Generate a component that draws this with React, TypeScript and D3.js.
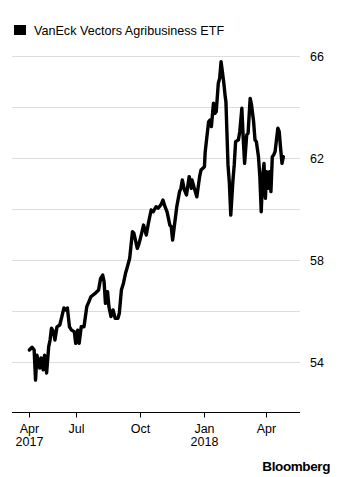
import React from "react";
import * as d3 from "d3";

const seriesName = "VanEck Vectors Agribusiness ETF";

const dates = [
  "2017-04-24","2017-04-28","2017-05-01","2017-05-03","2017-05-05","2017-05-09","2017-05-11","2017-05-14","2017-05-16","2017-05-19",
  "2017-05-22","2017-05-24","2017-05-26","2017-05-29","2017-05-31","2017-06-03","2017-06-07","2017-06-10","2017-06-13","2017-06-16",
  "2017-06-18","2017-06-21","2017-06-24","2017-06-28","2017-06-30","2017-07-03","2017-07-05","2017-07-08","2017-07-12","2017-07-16",
  "2017-07-19","2017-07-22","2017-07-28","2017-08-02","2017-08-05","2017-08-08","2017-08-10","2017-08-12","2017-08-15","2017-08-17",
  "2017-08-20","2017-08-23","2017-08-26","2017-08-30","2017-09-01","2017-09-04","2017-09-07","2017-09-10","2017-09-12","2017-09-16",
  "2017-09-20","2017-09-22","2017-09-27","2017-09-29","2017-10-02","2017-10-06","2017-10-10","2017-10-13","2017-10-17","2017-10-20",
  "2017-10-24","2017-10-27","2017-10-31","2017-11-03","2017-11-06","2017-11-09","2017-11-13","2017-11-15","2017-11-17","2017-11-20",
  "2017-11-23","2017-11-27","2017-11-29","2017-12-01","2017-12-04","2017-12-07","2017-12-11","2017-12-14","2017-12-15","2017-12-19",
  "2017-12-22","2017-12-26","2017-12-28","2018-01-02","2018-01-03","2018-01-05","2018-01-08","2018-01-10","2018-01-12","2018-01-15",
  "2018-01-17","2018-01-19","2018-01-22","2018-01-24","2018-01-26","2018-01-30","2018-02-01","2018-02-02","2018-02-05","2018-02-07",
  "2018-02-09","2018-02-12","2018-02-14","2018-02-16","2018-02-20","2018-02-22","2018-02-25","2018-02-27","2018-03-01","2018-03-04",
  "2018-03-06","2018-03-09","2018-03-11","2018-03-14","2018-03-16","2018-03-18","2018-03-21","2018-03-23","2018-03-25","2018-03-27",
  "2018-03-29","2018-03-31","2018-04-02","2018-04-04","2018-04-06","2018-04-08","2018-04-10","2018-04-12","2018-04-14","2018-04-16",
  "2018-04-18","2018-04-20","2018-04-22","2018-04-24","2018-04-26"
];

const prices = [
  54.47,54.58,54.47,53.29,54.27,53.76,54.16,53.69,54.27,53.57,
  54.6,54.86,55.33,55.19,54.86,55.38,55.45,55.78,56.12,56.04,
  56.12,55.38,55.25,55.19,54.73,55.25,54.73,55.38,55.38,56.17,
  56.36,56.56,56.69,56.82,57.28,57.41,57.15,56.3,56.76,56.17,
  55.78,56.04,55.71,55.71,55.91,56.82,57.09,57.48,57.67,58.07,
  59.11,59.05,58.46,58.59,58.91,59.37,58.98,59.44,59.96,59.89,
  60.09,60.03,60.16,60.35,60.09,59.89,59.37,59.31,58.78,59.44,
  60.09,60.68,60.81,61.14,60.75,60.55,61.27,60.81,61.14,60.75,
  60.48,61.27,61.53,61.66,62.22,62.71,63.42,63.49,63.23,64.15,
  63.75,63.82,64.93,65.13,65.78,64.93,64.4,64.21,61.73,61.01,
  59.76,61.07,61.73,62.64,62.71,63.03,63.95,62.77,61.79,62.9,
  62.97,64.34,64.08,63.42,62.71,62.64,62.05,61.27,59.89,61.27,
  61.79,60.42,61.46,60.81,61.46,60.68,62.05,62.12,62.25,62.71,
  63.17,63.03,62.38,61.79,62.05
];

const xTickDates = ["2017-04-24", "2017-07-01", "2017-10-01", "2018-01-01", "2018-04-01"];
const xTickLabels = [["Apr", "2017"], ["Jul"], ["Oct"], ["Jan", "2018"], ["Apr"]];
const gridValues = [54, 56, 58, 60, 62, 64, 66];
const yLabelValues = [54, 58, 62, 66];

const parse = d3.timeParse("%Y-%m-%d");

export default function App() {
  const W = 340, H = 477;
  const x = d3.scaleTime()
    .domain([parse("2017-03-30") as Date, parse("2018-05-20") as Date])
    .range([12, 300]);
  const y = d3.scaleLinear().domain([52, 66]).range([413, 56]);

  const data = dates.map((d, i) => ({ date: parse(d) as Date, value: prices[i] }));
  const line = d3.line<{ date: Date; value: number }>()
    .x((d) => x(d.date))
    .y((d) => y(d.value));

  const axisY = Math.round(y(52)) - 0.5;
  const font = "'Liberation Sans', Arial, Helvetica, sans-serif";

  return (
    <svg width={W} height={H} style={{ position: "absolute", left: 0, top: 0, background: "#fff" }} fontFamily={font}>
      <rect x={14} y={25} width={12} height={10} fill="#000" />
      <text x={34} y={34.5} fontSize={12.6} fill="#000">{seriesName}</text>

      {gridValues.map((v) => (
        <line key={v} x1={12} x2={300} y1={Math.round(y(v)) + 0.5} y2={Math.round(y(v)) + 0.5} stroke="#dcdcdc" strokeWidth={1.2} />
      ))}
      {yLabelValues.map((v) => (
        <text key={v} x={310} y={y(v) + 4.5} fontSize={12.5} fill="#000">{v}</text>
      ))}

      <path d={line(data) || ""} fill="none" stroke="#000" strokeWidth={3.4} strokeLinejoin="round" strokeLinecap="round" />

      <line x1={12} x2={300} y1={axisY} y2={axisY} stroke="#000" strokeWidth={1} />
      {xTickDates.map((d, i) => {
        const tx = Math.round(x(parse(d) as Date)) + 0.5;
        return (
          <g key={d}>
            <line x1={tx} x2={tx} y1={axisY} y2={axisY + 5} stroke="#000" strokeWidth={1} />
            {xTickLabels[i].map((t, j) => (
              <text key={j} x={tx} y={433 + j * 13} fontSize={12.5} textAnchor="middle" fill="#000">{t}</text>
            ))}
          </g>
        );
      })}

      <text x={330} y={471} fontSize={13.5} fontWeight="bold" textAnchor="end" fill="#000" letterSpacing={-0.4}>Bloomberg</text>
    </svg>
  );
}
